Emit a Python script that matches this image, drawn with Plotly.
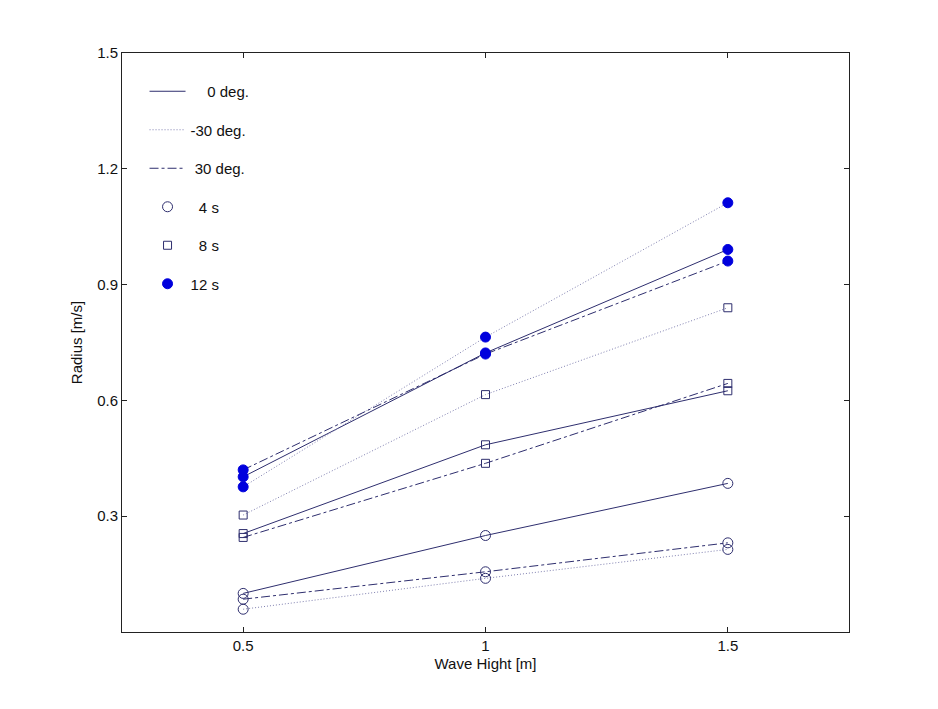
import plotly.graph_objects as go

wave_height = [0.5, 1.0, 1.5]

# 4 s period
r4_0 = [0.100, 0.250, 0.385]
r4_m30 = [0.059, 0.139, 0.214]
r4_p30 = [0.085, 0.156, 0.231]
# 8 s period
r8_0 = [0.255, 0.485, 0.625]
r8_m30 = [0.303, 0.615, 0.840]
r8_p30 = [0.245, 0.437, 0.644]
# 12 s period
r12_0 = [0.402, 0.723, 0.991]
r12_m30 = [0.376, 0.764, 1.112]
r12_p30 = [0.420, 0.720, 0.961]

x_ticks = [0.5, 1, 1.5]
x_tick_labels = ["0.5", "1", "1.5"]
y_ticks = [0.3, 0.6, 0.9, 1.2, 1.5]
y_tick_labels = ["0.3", "0.6", "0.9", "1.2", "1.5"]

LINE = "#2e2e6e"
DOT = "#7f7fb0"
FILL = "#0000dd"
FONT = "Liberation Sans, Arial"
FS = 15

styles = {"0": ("solid", LINE), "-30": ("1px,2px", DOT), "30": ("dashdot", LINE)}
markers = {
    "4": dict(symbol="circle-open", size=10, color=LINE, line=dict(width=1, color=LINE)),
    "8": dict(symbol="square-open", size=8, color=LINE, line=dict(width=1, color=LINE)),
    "12": dict(symbol="circle", size=10, color=FILL, line=dict(width=1, color=FILL)),
}

series = [
    ("4", "0", r4_0), ("4", "-30", r4_m30), ("4", "30", r4_p30),
    ("8", "0", r8_0), ("8", "-30", r8_m30), ("8", "30", r8_p30),
    ("12", "0", r12_0), ("12", "-30", r12_m30), ("12", "30", r12_p30),
]

fig = go.Figure()
for per, ang, vals in series:
    dash, col = styles[ang]
    fig.add_trace(go.Scatter(
        x=wave_height, y=vals, mode="lines+markers",
        line=dict(color=col, width=1, dash=dash),
        marker=markers[per], showlegend=False))

NB = "\u00a0"
legend_items = [
    ("lines", NB * 4 + "0 deg.", dict(color=LINE, width=1, dash="solid"), None),
    ("lines", "-30 deg.", dict(color=DOT, width=1, dash="1px,2px"), None),
    ("lines", NB * 1 + "30 deg.", dict(color=LINE, width=1, dash="dashdot"), None),
    ("markers", NB * 2 + "4 s", None, markers["4"]),
    ("markers", NB * 2 + "8 s", None, markers["8"]),
    ("markers", "12 s", None, markers["12"]),
]
for i, (mode, name, ln, mk) in enumerate(legend_items):
    kw = dict(x=[None], y=[None], mode=mode, name=name, legendgroup=f"g{i}")
    if ln is not None:
        kw["line"] = ln
    if mk is not None:
        kw["marker"] = mk
    fig.add_trace(go.Scatter(**kw))

axis_common = dict(
    showgrid=False, zeroline=False, showline=True, linecolor="#222222",
    linewidth=1, mirror="allticks", ticks="inside", ticklen=5,
    tickcolor="#222222", tickfont=dict(family=FONT, size=FS, color="#111111"),
)
fig.update_xaxes(range=[0.25, 1.75], tickvals=x_ticks, ticktext=x_tick_labels,
                 title=dict(text="Wave Hight [m]", standoff=5,
                            font=dict(family=FONT, size=FS, color="#111111")),
                 **axis_common)
fig.update_yaxes(range=[0, 1.5], tickvals=y_ticks, ticktext=y_tick_labels,
                 title=dict(text="Radius [m/s]", standoff=10,
                            font=dict(family=FONT, size=FS, color="#111111")),
                 **axis_common)

fig.update_layout(
    width=938, height=709,
    margin=dict(l=122, r=89, t=53, b=77),
    paper_bgcolor="white", plot_bgcolor="white",
    legend=dict(x=0.031, y=0.962, xanchor="left", yanchor="top",
                bgcolor="rgba(0,0,0,0)", tracegroupgap=16,
                font=dict(family=FONT, size=FS, color="#111111"),
                itemwidth=36),
)

fig.write_html("out.html")
